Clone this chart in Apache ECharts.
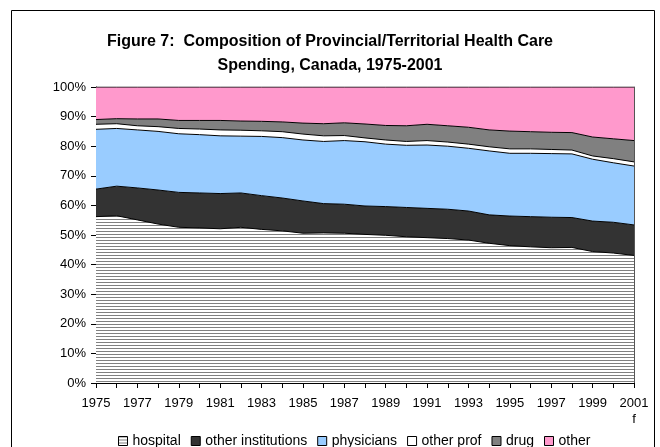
<!DOCTYPE html>
<html>
<head>
    <meta charset="utf-8">
    <script type="text/javascript" src="https://cdn.jsdelivr.net/npm/echarts@6/dist/echarts.min.js"></script>
    <style type="text/css">
        * {
            margin: 0;
            padding: 0;
        }
        body {
            background: #fff;
        }
        #container {
            width: 660px;
            height: 447px;
        }
    </style>
</head>
<body>
<div id="container"></div>

<script type="text/javascript">

    //年份
    var years = ['1975', '1976', '1977', '1978', '1979', '1980', '1981', '1982', '1983',
        '1984', '1985', '1986', '1987', '1988', '1989', '1990', '1991', '1992',
        '1993', '1994', '1995', '1996', '1997', '1998', '1999', '2000', '2001'];

    //各项占比 (%)
    var hospital = [56.2, 56.5, 55.1, 53.7, 52.6, 52.4, 52.1, 52.6, 51.9, 51.4, 50.6, 50.7, 50.6,
        50.2, 49.9, 49.4, 49.1, 48.8, 48.3, 47.2, 46.4, 46.0, 45.7, 45.8, 44.4, 43.9, 43.1];
    var otherInstitutions = [9.3, 10.0, 10.8, 11.5, 11.8, 11.8, 11.9, 11.6, 11.4, 11.1, 10.9, 9.9, 9.8,
        9.6, 9.7, 9.9, 9.9, 9.9, 9.8, 9.6, 10.0, 10.2, 10.3, 10.1, 10.3, 10.4, 10.3];
    var physicians = [20.2, 19.5, 19.6, 19.8, 19.8, 19.7, 19.5, 19.2, 20.0, 20.4, 20.6, 21.0, 21.5,
        21.7, 21.1, 21.0, 21.4, 21.3, 21.2, 21.6, 21.2, 21.4, 21.5, 21.5, 20.9, 20.1, 19.9];
    var otherProf = [1.7, 1.6, 1.4, 1.6, 1.8, 1.9, 2.0, 2.0, 1.9, 2.0, 2.0, 1.9, 1.7,
        1.3, 1.4, 1.3, 1.5, 1.4, 1.4, 1.4, 1.5, 1.5, 1.4, 1.3, 1.1, 1.4, 1.4];
    var drug = [1.6, 1.7, 2.3, 2.6, 2.7, 2.9, 3.2, 3.1, 3.2, 3.3, 3.7, 4.1, 4.3,
        4.7, 4.9, 5.3, 5.5, 5.5, 5.7, 5.7, 6.0, 5.8, 5.8, 5.9, 6.4, 6.7, 7.2];
    var other = [11.0, 10.7, 10.8, 10.8, 11.3, 11.3, 11.3, 11.5, 11.6, 11.8, 12.2, 12.4, 12.1,
        12.5, 13.0, 13.1, 12.6, 13.1, 13.6, 14.5, 14.9, 15.1, 15.3, 15.4, 16.9, 17.5, 18.1];

    //y轴刻度
    var yTicks = [0, 10, 20, 30, 40, 50, 60, 70, 80, 90, 100];

    var fontName = '"Liberation Sans", Arial, sans-serif';

    //医院的横线填充
    function makeLinePattern() {
        var c = document.createElement('canvas');
        c.width = 6;
        c.height = 3;
        var ctx = c.getContext('2d');
        ctx.fillStyle = '#ffffff';
        ctx.fillRect(0, 0, 6, 3);
        ctx.fillStyle = '#808080';
        ctx.fillRect(0, 0, 6, 1);
        return c;
    }
    var hospitalFill = {image: makeLinePattern(), repeat: 'repeat'};

    var seriesDefs = [
        {name: 'hospital', data: hospital, fill: hospitalFill},
        {name: 'other institutions', data: otherInstitutions, fill: '#333333'},
        {name: 'physicians', data: physicians, fill: '#99CCFF'},
        {name: 'other prof', data: otherProf, fill: '#FFFFFF'},
        {name: 'drug', data: drug, fill: '#808080'},
        {name: 'other', data: other, fill: '#FF99CC'}
    ];

    var series = seriesDefs.map(function (s) {
        return {
            name: s.name,
            type: 'line',
            stack: 'total',
            symbol: 'none',
            data: s.data,
            itemStyle: {color: s.fill},
            lineStyle: {color: '#000', width: 1},
            areaStyle: {color: s.fill, opacity: 1}
        };
    });

    var legendData = seriesDefs.map(function (s) {
        return {
            name: s.name,
            icon: 'rect',
            itemStyle: {color: s.fill, borderColor: '#000', borderWidth: 1}
        };
    });

    var myChart = echarts.init(document.getElementById('container'), null, {renderer: 'canvas'});
    var option = {
        animation: false,
        backgroundColor: '#fff',
        title: {
            text: 'Figure 7:  Composition of Provincial/Territorial Health Care\nSpending, Canada, 1975-2001',
            left: 'center',
            top: 25,
            textStyle: {
                fontFamily: fontName,
                fontSize: 16,
                fontWeight: 'bold',
                color: '#000',
                lineHeight: 24
            }
        },
        graphic: [{//外框
            type: 'rect',
            shape: {x: 11.5, y: 10.5, width: 643, height: 460},
            style: {fill: 'none', stroke: '#000', lineWidth: 1},
            silent: true,
            z: -1
        }],
        legend: {
            left: 113,
            top: 429,
            itemWidth: 9,
            itemHeight: 9,
            itemGap: 10,
            textStyle: {fontFamily: fontName, fontSize: 14, color: '#000'},
            data: legendData
        },
        grid: {
            left: 96,
            right: 26,
            top: 87,
            bottom: 64,
            containLabel: false
        },
        xAxis: {
            type: 'category',
            boundaryGap: false,
            data: years,
            axisLine: {lineStyle: {color: '#000', width: 1}},
            axisTick: {show: true, interval: 0, length: 5, lineStyle: {color: '#000'}},
            axisLabel: {
                interval: 1,
                margin: 12,
                fontFamily: fontName,
                fontSize: 13,
                color: '#000',
                lineHeight: 16,
                formatter: function (v) {
                    return v === '2001' ? '2001\nf' : v;
                }
            },
            splitLine: {show: false}
        },
        yAxis: [{
            type: 'value',
            min: yTicks[0],
            max: yTicks[yTicks.length - 1],
            interval: 10,
            axisLine: {show: true, lineStyle: {color: '#000', width: 1}},
            axisTick: {show: true, length: 5, lineStyle: {color: '#000'}},
            axisLabel: {
                margin: 10,
                fontFamily: fontName,
                fontSize: 13,
                color: '#000',
                formatter: '{value}%'
            },
            splitLine: {show: false}
        }, {
            type: 'value',
            position: 'right',
            min: 0,
            max: 100,
            axisLine: {show: true, lineStyle: {color: '#555', width: 1}},
            axisTick: {show: false},
            axisLabel: {show: false},
            splitLine: {show: false}
        }],
        series: series
    };
    myChart.setOption(option);

</script>
</body>
</html>
